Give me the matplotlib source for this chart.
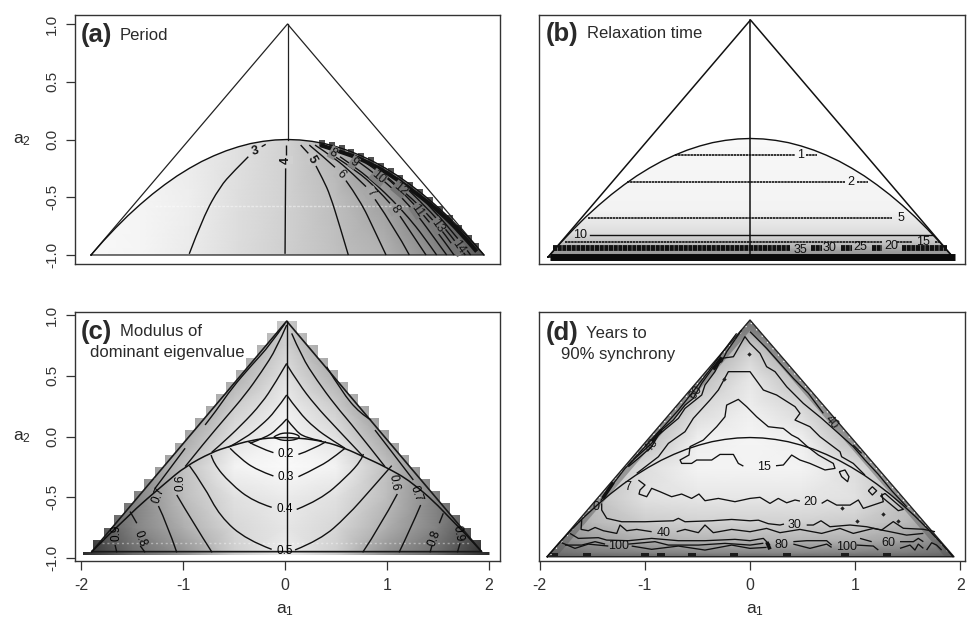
import matplotlib
matplotlib.use('Agg')
import matplotlib.pyplot as plt
from matplotlib.patches import Polygon, PathPatch
from matplotlib.path import Path
import numpy as np

plt.rcParams['font.family'] = ['Liberation Sans', 'DejaVu Sans']
plt.rcParams['mathtext.default'] = 'regular'

W, H = 969, 618
dark = '#333333'

# boundary of the complex region
par_a1 = [-2, -1.875, -1.75, -1.625, -1.5, -1.375, -1.25, -1.125, -1, -0.875, -0.75, -0.625, -0.5, -0.375, -0.25, -0.125,
          0, 0.125, 0.25, 0.375, 0.5, 0.625, 0.75, 0.875, 1, 1.125, 1.25, 1.375, 1.5, 1.625, 1.75, 1.875, 2]
par_a2 = [-1, -0.879, -0.766, -0.66, -0.563, -0.473, -0.391, -0.316, -0.25, -0.191, -0.141, -0.098, -0.063, -0.035, -0.016, -0.004,
          0, -0.004, -0.016, -0.035, -0.063, -0.098, -0.141, -0.191, -0.25, -0.316, -0.391, -0.473, -0.563, -0.66, -0.766, -0.879, -1]

# (a) period
a_gray_a1 = [-2, -1.5, -1, -0.5, 0, 0.5, 1, 1.5, 2]
a_gray_a2 = [-1, -0.5, 0]
a_gray = [[.97, .96, .92, .86, .81, .75, .70, .55, .35],
          [.97, .96, .93, .87, .82, .74, .62, .40, .20],
          [.97, .95, .92, .88, .82, .70, .45, .30, .20]]
a_edge_a1 = [.35, .45, .55, .65, .75, .85, .95, 1.05, 1.15, 1.25, 1.35, 1.45, 1.55, 1.65, 1.75, 1.85, 1.92]
a_edge_a2 = [-.03, -.05, -.076, -.106, -.14, -.18, -.226, -.276, -.33, -.39, -.456, -.526, -.6, -.68, -.766, -.856, -.92]
a_band = [(.331, -.048), (.602, -.12), (.84, -.205), (1.077, -.32), (1.349, -.49), (1.552, -.63), (1.756, -.80), (1.926, -.97)]
a_contours = [
    [(-1.0, -.99), (-.857, -.668), (-.687, -.408), (-.551, -.278), (-.399, -.149)],
    [(-.263, -.062), (-.222, -.042)],
    [(-.025, -.99), (-.019, -.25)],
    [(-.012, -.134), (-.012, -.048)],
    [(.619, -1.0), (.534, -.755), (.433, -.48), (.365, -.351), (.29, -.229)],
    [(.212, -.12), (.134, -.048)],
    [(1.003, -1.0), (.891, -.798), (.738, -.524), (.595, -.356)],
    [(.484, -.241), (.365, -.149), (.222, -.048)],
    [(1.24, -1.0), (1.094, -.769), (.891, -.518)],
    [(.799, -.408), (.653, -.287), (.483, -.163), (.28, -.048)],
    [(1.41, -1.0), (1.281, -.836), (1.145, -.663)],
    [(1.043, -.553), (.908, -.423), (.704, -.27), (.494, -.154)],
    [(1.518, -1.0), (1.383, -.836), (1.23, -.674), (1.077, -.533), (.908, -.394), (.721, -.258), (.534, -.149)],
    [(1.62, -1.0), (1.484, -.841), (1.366, -.703), (1.264, -.596), (1.094, -.443), (.908, -.307), (.721, -.192)],
    [(1.695, -1.0), (1.586, -.87), (1.45, -.72), (1.281, -.553), (1.111, -.408), (.975, -.307), (.806, -.206)],
    [(1.756, -1.0), (1.654, -.885), (1.569, -.784), (1.416, -.639), (1.23, -.481), (1.009, -.322)],
    [(1.81, -1.0), (1.722, -.899), (1.603, -.77), (1.416, -.587), (1.23, -.437)],
    [(1.864, -1.0), (1.789, -.914), (1.688, -.812), (1.518, -.639), (1.349, -.495)],
]
a_labels = [(-.325, -.105, '3', 15, .85), (-.015, -.178, '4', 90, .82), (.246, -.172, '5', -60, .78), (.541, -.302, '6', -45, .72),
            (.846, -.46, '7', -50, .66), (1.094, -.605, '8', -55, .6), (.466, -.114, '8', -30, .55), (.677, -.198, '9', -35, .5),
            (.925, -.33, '10', -40, .5), (1.145, -.431, '12', -40, .45), (1.325, -.616, '11', -55, .48),
            (1.525, -.749, '13', -55, .48), (1.739, -.934, '14', -55, .45)]

# (b) relaxation time
b_gray_a2 = [-1.02, -.95, -.9, -.8, -.6, -.3, 0]
b_gray = [.55, .62, .72, .86, .95, .96, .97]
b_lines = [(-.136, -.746, .44), (-.136, .545, .654), (-.367, -1.217, .934), (-.367, 1.049, 1.158), (-.671, -1.602, 1.4),
           (-.871, -1.833, 1.296), (-.871, 1.444, 1.593), (-.871, 1.82, 1.87)]
b_solid = (-.817, -1.586, 1.806)
b_bands = [(-.927, -1.948, .39), (-.927, .595, .703), (-.927, .894, 1.0), (-.927, 1.197, 1.296), (-.927, 1.494, 1.939)]
b_bottom = (-1.003, -1.98, 2.02)
b_labels = [(.492, -.136, '1'), (.99, -.367, '2'), (1.484, -.671, '5'), (-1.685, -.817, '10'), (1.708, -.871, '15'),
            (1.388, -.907, '20'), (1.082, -.918, '25'), (.785, -.927, '30'), (.489, -.94, '35')]

# (c) modulus of dominant eigenvalue, half grid from the centre out
c_gray_a1 = [0, .5, 1, 1.5, 2]
c_gray_a2 = [-1, -.75, -.5, -.25, 0, .25, .5, .75, 1]
c_gray = [[.93, .80, .55, .40, .15],
          [.90, .84, .68, .50, .25],
          [.92, .88, .74, .50, .35],
          [.98, .95, .75, .50, .40],
          [.97, .88, .65, .50, .40],
          [.93, .80, .55, .50, .50],
          [.88, .68, .50, .50, .50],
          [.82, .60, .50, .50, .50],
          [.80, .55, .50, .50, .50]]
c_col_edges = [-1.98, -1.88, -1.78, -1.68, -1.58, -1.48, -1.38, -1.28, -1.18, -1.08, -.98, -.88, -.78, -.68, -.58, -.48, -.38, -.28, -.18, -.08,
               .02, .12, .22, .32, .42, .52, .62, .72, .82, .92, 1.02, 1.12, 1.22, 1.32, 1.42, 1.52, 1.62, 1.72, 1.82, 1.92, 2.02]
c_col_top = [-.95, -.85, -.75, -.65, -.55, -.45, -.35, -.25, -.15, -.05, .05, .15, .25, .35, .45, .55, .65, .75, .85, .95,
             .95, .85, .75, .65, .55, .45, .35, .25, .15, .05, -.05, -.15, -.25, -.35, -.45, -.55, -.65, -.75, -.85, -.95]
c_triangle = [(-1.895, -.948), (.016, .95), (1.928, -.948)]
c_par = [(-1.895, -.948), (-1.536, -.646), (-1.176, -.385), (-.98, -.248), (-.719, -.13), (-.556, -.084), (-.327, -.029), (-.11, -.008),
         (.13, -.01), (.392, -.042), (.588, -.097), (.768, -.166), (.98, -.248), (1.242, -.372), (1.569, -.619), (1.928, -.948)]
c_lens = [(-.11, -.005), (-.07, .02), (.02, .032), (.11, .02), (.15, -.005), (.11, -.025), (.02, -.035), (-.07, -.025), (-.11, -.005)]
c_contours = [
    [(.016, .144), (-.082, .053), (-.196, -.01), (-.343, -.056)],
    [(.016, .342), (-.098, .204), (-.229, .095), (-.392, -.015), (-.556, -.089)],
    [(.016, .602), (-.098, .438), (-.229, .273), (-.425, .095), (-.654, -.084), (-.719, -.13)],
    [(.016, .918), (-.082, .726), (-.229, .534), (-.392, .342), (-.588, .15), (-.784, -.043), (-.98, -.248)],
    [(0, .931), (-.147, .753), (-.327, .588), (-.523, .397), (-.67, .218), (-.784, .095)],
    [(-.98, -.097), (-1.176, -.317), (-1.275, -.427)],
    [(.016, .144), (.098, .053), (.196, -.01), (.36, -.037)],
    [(.016, .342), (.131, .204), (.294, .067), (.458, -.029), (.588, -.097)],
    [(.016, .594), (.131, .438), (.294, .259), (.49, .081), (.768, -.166)],
    [(.065, .849), (.163, .657), (.31, .465), (.49, .259), (.686, .067), (.98, -.248)],
    [(.408, .574), (.556, .369), (.735, .19), (.843, .136)],
    [(.882, .053), (1.046, -.125), (1.258, -.358)],
    [(-.359, -.043), (-.261, -.092), (-.114, -.133)],
    [(.131, -.147), (.261, -.111), (.402, -.043)],
    [(-.539, -.097), (-.441, -.18), (-.278, -.276), (-.114, -.325)],
    [(.131, -.331), (.343, -.248), (.507, -.152), (.588, -.097)],
    [(-.725, -.152), (-.703, -.221), (-.539, -.385), (-.31, -.536), (-.131, -.583)],
    [(.114, -.6), (.343, -.523), (.605, -.331), (.752, -.193), (.768, -.144)],
    [(-.938, -.24), (-.801, -.399), (-.637, -.66), (-.376, -.852), (-.131, -.929)],
    [(.098, -.934), (.343, -.852), (.605, -.66), (.866, -.413), (1.046, -.24)],
    [(-1.062, -.481), (-.899, -.714), (-.716, -.954)],
    [(.761, -.954), (.931, -.742), (1.101, -.473)],
    [(-1.242, -.572), (-1.16, -.714), (-1.062, -.954)],
    [(1.118, -.954), (1.225, -.77), (1.33, -.564)],
    [(-1.52, -.618), (-1.454, -.714)],
    [(-1.42, -.9), (-1.373, -.954)],
    [(1.422, -.954), (1.44, -.9)],
    [(1.513, -.714), (1.552, -.632)],
    [(-1.667, -.893), (-1.65, -.954)],
    [(1.69, -.954), (1.716, -.879)],
]
c_labels = [(.01, -.144, '0.2', 0), (.01, -.331, '0.3', 0), (-.007, -.597, '0.4', 0), (-.007, -.94, '0.5', 0),
            (-1.03, -.377, '0.6', 90), (1.072, -.377, '0.6', -80), (-1.242, -.481, '0.7', 70), (1.281, -.468, '0.7', -70),
            (-1.42, -.838, '0.8', -70), (1.461, -.838, '0.8', 70), (-1.65, -.797, '0.9', 90), (1.693, -.797, '0.9', -80)]

# (d) years to 90% synchrony
d_gray_a1 = [0, .5, 1, 1.5, 2]
d_gray_a2 = [-1.02, -.95, -.85, -.7, -.5, -.25, 0, .25, .5, .75, 1]
d_gray = [[.32, .32, .32, .32, .32],
          [.52, .52, .50, .48, .42],
          [.70, .70, .68, .62, .50],
          [.82, .82, .80, .72, .55],
          [.90, .90, .88, .75, .55],
          [.95, .95, .87, .70, .55],
          [.96, .93, .72, .55, .50],
          [.93, .84, .62, .50, .50],
          [.90, .72, .50, .50, .50],
          [.80, .55, .50, .50, .50],
          [.50, .50, .50, .50, .50]]
d_triangle = [(-1.926, -.981), (0, .967), (1.939, -.981)]
d_blot_a1 = [-1.86, -1.55, -1.0, -.85, -.55, -.15, .35, .9, 1.3]
d_blot_a2 = [-.985, -.985, -.985, -.985, -.985, -.985, -.985, -.985, -.985]
d_contours = [
    [(-.063, -.235), (-.111, -.213), (-.158, -.139), (-.285, -.139), (-.364, -.185), (-.507, -.185), (-.555, -.213), (-.65, -.213),
     (-.665, -.185), (-.58, -.144), (-.57, -.075), (-.444, -.021), (-.317, .089), (-.238, .171), (-.222, .267), (-.111, .314),
     (-.032, .254), (.063, .171), (.174, .089), (.317, .075), (.396, .021), (.459, -.007), (.539, -.07), (.65, -.144), (.792, -.213),
     (.808, -.254), (.713, -.267), (.57, -.213), (.475, -.185), (.396, -.144), (.317, -.226), (.247, -.232)],
    [(-1.077, -.295), (-.871, -.158), (-.776, -.048), (-.618, .048), (-.539, .158), (-.38, .309), (-.301, .391), (-.206, .542),
     (0, .542), (.127, .391), (.253, .35), (.428, .254), (.475, .199), (.428, .144), (.57, .089), (.665, .007), (.856, -.117),
     (.871, -.158), (.982, -.213), (1.093, -.309)],
    [(-1.157, -.24), (-1.061, -.171), (-.935, -.075), (-.871, .021), (-.681, .158), (-.618, .24), (-.459, .35), (-.428, .432), (-.333, .542),
     (-.269, .652), (-.158, .665), (-.048, .83), (0, .775), (.095, .693), (.158, .583), (.238, .542), (.349, .418), (.507, .281), (.681, .158),
     (.824, .048), (.982, -.075), (1.093, -.185), (1.22, -.303), (1.35, -.44), (1.49, -.57)],
    [(0, .871), (.158, .734), (.285, .61), (.412, .487), (.555, .363), (.697, .199)],
    [(.982, -.062), (1.061, -.13)],
    [(-.079, .885), (-.222, .706), (-.269, .624), (-.333, .597), (-.459, .446), (-.539, .322), (-.618, .267), (-.729, .144), (-.84, .062),
     (-.935, -.048), (-1.093, -.171), (-1.188, -.254), (-1.3, -.38), (-1.42, -.52)],
    [(-.127, .857), (-.269, .693), (-.396, .542), (-.555, .363), (-.681, .226), (-.808, .103), (-.998, -.075), (-1.157, -.226)],
    # 20
    [(-1.061, -.35), (-.998, -.391), (-1.046, -.432), (-1.055, -.465), (-.982, -.487), (-.935, -.418), (-.855, -.446), (-.745, -.487),
     (-.65, -.465), (-.555, -.501), (-.485, -.465), (-.428, -.52), (-.301, -.501), (-.143, -.528), (0, -.501), (.095, -.492), (.19, -.542),
     (.269, -.501), (.349, -.537), (.428, -.514), (.475, -.523)],
    [(.681, -.542), (.735, -.514), (.824, -.556), (.951, -.556), (1.03, -.514), (1.077, -.583), (1.267, -.528), (1.252, -.46)],
    [(1.283, -.46), (1.458, -.591), (1.41, -.602), (1.242, -.481), (1.283, -.46)],
    [(.849, -.281), (.903, -.267), (.941, -.322), (.928, -.363), (.871, -.322), (.849, -.281)],
    [(1.125, -.438), (1.163, -.405), (1.204, -.438), (1.163, -.473), (1.125, -.438)],
    # 30
    [(-1.41, -.542), (-1.41, -.597), (-1.362, -.665), (-1.22, -.693), (-.998, -.693), (-.729, -.685), (-.681, -.665), (-.618, -.693),
     (-.364, -.685), (-.174, -.674), (0, -.685), (.08, -.68), (.174, -.709), (.285, -.72), (.323, -.712)],
    [(.539, -.72), (.602, -.72), (.675, -.685), (.76, -.734), (.951, -.72), (1.109, -.734), (1.252, -.761), (1.362, -.692), (1.458, -.747),
     (1.648, -.755), (1.759, -.775)],
    # 40
    [(-1.6, -.679), (-1.606, -.756), (-1.537, -.767), (-1.473, -.74), (-1.394, -.767), (-1.267, -.789), (-1.236, -.72), (-1.172, -.767),
     (-1.077, -.756), (-.935, -.775)],
    [(-.697, -.775), (-.618, -.756), (-.491, -.783), (-.428, -.72), (-.349, -.783), (-.174, -.756), (0, -.775), (.158, -.748), (.285, -.783),
     (.475, -.756), (.681, -.789), (.856, -.748), (.982, -.789), (1.172, -.748), (1.331, -.775), (1.489, -.803), (1.648, -.789)],
    # 60
    [(-1.711, -.789), (-1.632, -.83), (-1.442, -.824), (-1.362, -.844), (-1.157, -.849), (-.935, -.83), (-.681, -.849), (-.428, -.849),
     (-.143, -.838), (0, -.849), (.127, -.83), (.19, -.885)],
    [(.412, -.857), (.539, -.849), (.729, -.849), (.776, -.885)],
    # 100
    [(-1.79, -.866), (-1.664, -.912), (-1.537, -.877), (-1.347, -.893)],
    [(-1.125, -.893), (-.935, -.92), (-.681, -.893), (-.428, -.926), (-.174, -.885), (0, -.912), (.158, -.904)],
    [(.412, -.877), (.57, -.912), (.729, -.877), (.776, -.904)],
    [(-1.759, -.885), (-1.6, -.885), (-1.473, -.857), (-1.378, -.877)],
    [(-1.157, -.877), (-.903, -.857), (-.776, -.885), (-.491, -.885), (-.238, -.871), (0, -.885), (.127, -.87)],
    [(1.014, -.885), (1.172, -.893), (1.22, -.926)],
    [(1.046, -.83), (1.157, -.857)],
    [(1.426, -.912), (1.521, -.885), (1.568, -.926), (1.6, -.877), (1.648, -.912)],
    [(1.426, -.857), (1.553, -.857), (1.6, -.83), (1.648, -.857)],
    [(1.679, -.926), (1.727, -.866), (1.774, -.885), (1.822, -.926)],
]
d_thick = [
    [(-1.3, -.37), (-1.4, -.5)],
    [(-.84, .062), (-.935, -.03)],
    [(-.269, .66), (-.35, .56)],
    [(.16, -.86), (.19, -.92)],
]
d_dots_a1 = [-.006, -.244, .871, 1.014, 1.267, 1.41]
d_dots_a2 = [.684, .481, -.578, -.685, -.632, -.685]
d_labels = [(.133, -.24, '15', 0), (.57, -.528, '20', 0), (.421, -.72, '30', 0), (-.817, -.789, '40', 0), (.77, .125, '40', -50),
            (-.935, -.067, '40', 50), (-.516, .372, '60', 55), (1.315, -.866, '60', 0), (.301, -.885, '80', 0),
            (-1.252, -.89, '100', 0), (.919, -.898, '100', 0), (-1.166, -.41, '7', 0), (-1.464, -.575, '0', 0)]


def add_axes(fig, left, right, top, bottom, xlim, ylim):
    ax = fig.add_axes([left / W, 1 - bottom / H, (right - left) / W, (bottom - top) / H])
    ax.set_xlim(xlim)
    ax.set_ylim(ylim)
    for s in ax.spines.values():
        s.set_linewidth(1.0)
        s.set_color(dark)
    ax.set_xticks([])
    ax.set_yticks([])
    return ax


def gray_mesh(ax, x, y, z, clip):
    mesh = ax.pcolormesh(x, y, z, cmap='gray', vmin=0, vmax=1, shading='gouraud', zorder=1)
    p = Polygon(clip, closed=True, fc='none', ec='none', transform=ax.transData)
    ax.add_patch(p)
    mesh.set_clip_path(p)


def draw_lines(ax, lines, lw=1.0):
    for pts in lines:
        pts = np.array(pts)
        ax.plot(pts[:, 0], pts[:, 1], color='#111111', lw=lw, zorder=3, solid_capstyle='butt')


def draw_curves(ax, lines, lw=1.0):
    # quadratic pieces through the read points' midpoints, the theoretical contours are smooth
    for pts in lines:
        pts = np.array(pts)
        if len(pts) < 3:
            draw_lines(ax, [pts], lw)
            continue
        verts = [pts[0]]
        codes = [Path.MOVETO]
        for i in range(1, len(pts) - 1):
            end = pts[i + 1] if i == len(pts) - 2 else (pts[i] + pts[i + 1]) / 2
            verts += [pts[i], end]
            codes += [Path.CURVE3, Path.CURVE3]
        ax.add_patch(PathPatch(Path(verts, codes), fc='none', ec='#111111', lw=lw, zorder=3, capstyle='butt'))


def y_ticks(ax):
    ax.set_yticks([-1, -0.5, 0, 0.5, 1])
    ax.set_yticklabels(['-1.0', '-0.5', '0.0', '0.5', '1.0'], rotation=90, va='center', fontsize=11, color=dark)
    ax.tick_params(axis='y', length=6.5, width=0.9, pad=5, color=dark)


def x_ticks(ax):
    ax.set_xticks([-2, -1, 0, 1, 2])
    ax.set_xticklabels(['-2', '-1', '0', '1', '2'], fontsize=11.5, color=dark)
    ax.tick_params(axis='x', length=6.5, width=0.9, pad=6, color=dark)


def panel_text(fig, x, y, s, **kw):
    fig.text(x / W, 1 - y / H, s, va='center', ha=kw.pop('ha', 'left'), color=kw.pop('color', '#2a2a2a'), **kw)


fig = plt.figure(figsize=(W / 100, H / 100), dpi=100)

# panel a
ax = add_axes(fig, 75, 500, 15, 264, (-2.163, 2.163), (-1.078, 1.078))
a_clip = list(zip(par_a1, par_a2))
gray_mesh(ax, a_gray_a1, a_gray_a2, a_gray, a_clip)
ax.scatter(a_edge_a1, a_edge_a2, marker='s', s=24, color='#505050', linewidths=0, zorder=2)
ax.plot([-1.35, 1.35], [-.58, -.58], color='white', lw=1.0, alpha=.45, ls=(0, (2, 1)), zorder=2)
ax.plot([-2, 0, 2, -2], [-1, 1, -1, -1], color='#222222', lw=0.9, zorder=3)
ax.plot([0, 0], [0, 1], color='#222222', lw=0.9, zorder=3)
ax.plot(par_a1, par_a2, color='#111111', lw=1.0, zorder=3)
draw_curves(ax, a_contours)
draw_curves(ax, [a_band], lw=3.0)
for x, y, s, r, bg in a_labels:
    ax.text(x, y, s, fontsize=9, rotation=r, ha='center', va='center', color='#111111', zorder=4,
            fontweight='bold' if s in '345' else 'normal',
            bbox=dict(fc=str(bg), ec='none', pad=0.4))
y_ticks(ax)

# panel b
ax = add_axes(fig, 539, 965, 15, 264, (-2.09, 2.12), (-1.059, 1.042))
gray_mesh(ax, [-2.1, 2.1], b_gray_a2, np.column_stack([b_gray, b_gray]), list(zip(par_a1, par_a2)))
ax.plot([-2, 0, 2, -2], [-1, 1, -1, -1], color='#111111', lw=1.1, zorder=3)
ax.plot([0, 0], [-1, 1], color='#111111', lw=1.1, zorder=3)
ax.plot(par_a1, par_a2, color='#111111', lw=1.0, zorder=3)
for y, x0, x1 in b_lines:
    ax.plot([x0, x1], [y, y], color='#111111', lw=1.2, ls=(0, (1.5, .35)), zorder=3)
ax.plot(b_solid[1:], [b_solid[0], b_solid[0]], color='#111111', lw=1.0, zorder=3)
for y, x0, x1 in b_bands:
    ax.plot([x0, x1], [y, y], color='#111111', lw=4.2, ls=(0, (.7, .1)), zorder=3)
ax.plot(b_bottom[1:], [b_bottom[0], b_bottom[0]], color='#0a0a0a', lw=5, solid_capstyle='butt', zorder=3)
for x, y, s in b_labels:
    ax.text(x, y, s, fontsize=9, ha='center', va='center', color='#111111', zorder=4)

# panel c
ax = add_axes(fig, 75, 500, 312, 561, (-2.06, 2.108), (-1.025, 1.025))
half = np.array(c_gray)
full = np.c_[half[:, :0:-1], half]
xs = np.r_[-np.array(c_gray_a1[:0:-1]), c_gray_a1]
edges = np.array(c_col_edges)
stair = np.c_[np.repeat(edges, 2)[1:-1], np.repeat(c_col_top, 2)]
stair = np.r_[[[edges[0], -.975]], stair, [[edges[-1], -.975]]]
gray_mesh(ax, xs, c_gray_a2, full, stair)
tri = np.array(c_triangle + c_triangle[:1])
ax.plot(tri[:, 0], tri[:, 1], color='#1a1a1a', lw=1.2, zorder=3)
ax.plot([tri[1, 0], tri[1, 0]], [tri[0, 1], tri[1, 1]], color='#111111', lw=1.0, zorder=3)
ax.plot([-1.8, 1.8], [-.875, -.875], color='white', lw=1.0, alpha=.4, ls=(0, (1.5, 2)), zorder=2)
draw_curves(ax, [c_par], lw=1.1)
draw_curves(ax, [c_lens])
draw_curves(ax, c_contours)
for x, y, s, r in c_labels:
    ax.text(x, y, s, fontsize=8.5, rotation=r, ha='center', va='center', color='#000000', zorder=4)
y_ticks(ax)
x_ticks(ax)

# panel d
ax = add_axes(fig, 539, 965, 312, 561, (-2.006, 2.044), (-1.016, 1.033))
half = np.array(d_gray)
full = np.c_[half[:, :0:-1], half]
xs = np.r_[-np.array(d_gray_a1[:0:-1]), d_gray_a1]
gray_mesh(ax, xs, d_gray_a2, full, d_triangle)
tri = np.array(d_triangle + d_triangle[:1])
# darker rim along the two sloping edges
rim, = ax.plot(tri[:3, 0], tri[:3, 1], color='#555555', lw=10, alpha=.45, zorder=1.5)
rim_clip = Polygon(d_triangle, closed=True, fc='none', ec='none', transform=ax.transData)
ax.add_patch(rim_clip)
rim.set_clip_path(rim_clip)
blots = ax.scatter(d_blot_a1, d_blot_a2, marker='s', s=30, color='#1c1c1c', linewidths=0, zorder=2)
blots.set_clip_path(rim_clip)
ax.plot(tri[:3, 0] * .985, tri[:3, 1] * .985, color='white', lw=1.0, ls=(0, (1, 5)), zorder=2)
ax.plot(tri[:, 0], tri[:, 1], color='#222222', lw=1.0, zorder=3)
ax.plot(np.array(par_a1) * .965, np.array(par_a2) * .98, color='#111111', lw=1.0, zorder=3)
draw_lines(ax, d_contours, lw=0.95)
draw_lines(ax, d_thick, lw=2.6)
ax.scatter(d_dots_a1, d_dots_a2, marker='D', s=5, color='#222222', linewidths=0, zorder=3)
for x, y, s, r in d_labels:
    ax.text(x, y, s, fontsize=9, rotation=r, ha='center', va='center', color='#111111', zorder=4)
x_ticks(ax)

# panel letters and titles
panel_text(fig, 81, 35, '(a)', fontsize=18.5, fontweight='bold')
panel_text(fig, 120, 35, 'Period', fontsize=12)
panel_text(fig, 546, 34, '(b)', fontsize=18.5, fontweight='bold')
panel_text(fig, 587, 34, 'Relaxation time', fontsize=12)
panel_text(fig, 81, 332, '(c)', fontsize=18.5, fontweight='bold')
panel_text(fig, 120, 332, 'Modulus of', fontsize=12)
panel_text(fig, 90, 353, 'dominant eigenvalue', fontsize=12)
panel_text(fig, 546, 333, '(d)', fontsize=18.5, fontweight='bold')
panel_text(fig, 586, 334, 'Years to', fontsize=12)
panel_text(fig, 561, 354, '90% synchrony', fontsize=12)

# axis names
for y in (140, 437):
    panel_text(fig, 22, y, 'a$_2$', fontsize=12.5, ha='center')
for x in (285, 755):
    panel_text(fig, x, 610, 'a$_1$', fontsize=12.5, ha='center')

fig.savefig('out.png', dpi=100)
